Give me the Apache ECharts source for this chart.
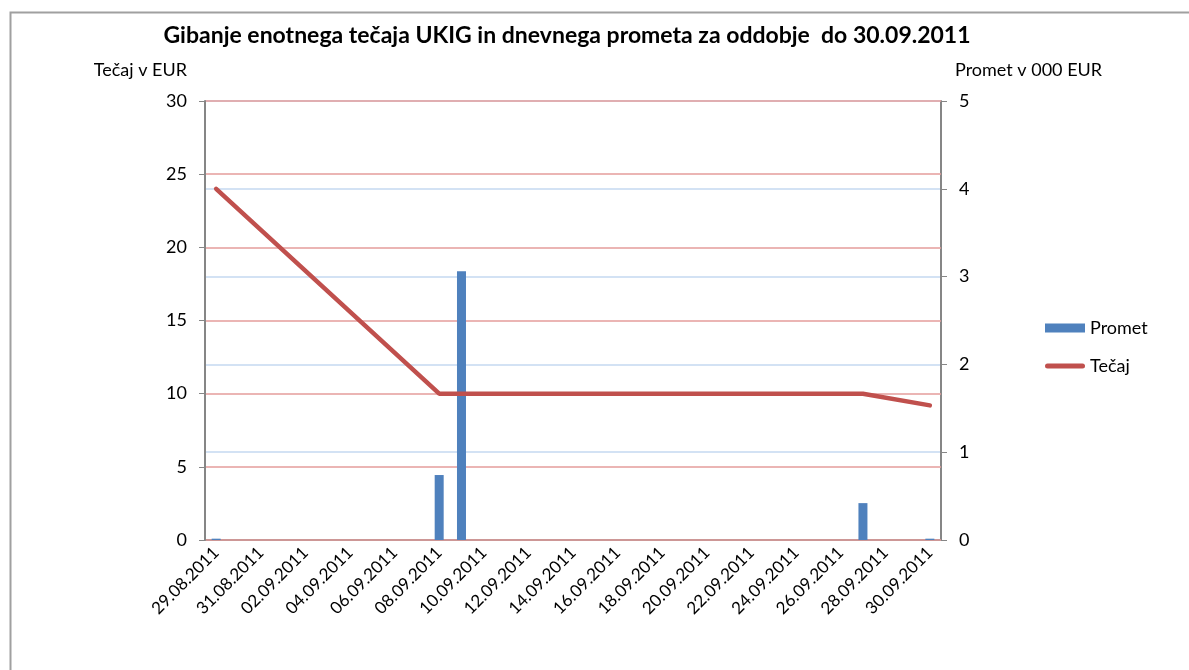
<!DOCTYPE html>
<html>
<head>
<meta charset="utf-8">
<script src="https://cdn.jsdelivr.net/npm/echarts@6/dist/echarts.min.js"></script>
<style>html,body{margin:0;padding:0;background:#fff}#c{width:1189px;height:670px}</style>
</head>
<body>
<div id="c"></div>
<script>
const dates = ['29.08.2011','30.08.2011','31.08.2011','01.09.2011','02.09.2011','03.09.2011','04.09.2011','05.09.2011','06.09.2011','07.09.2011','08.09.2011','09.09.2011','10.09.2011','11.09.2011','12.09.2011','13.09.2011','14.09.2011','15.09.2011','16.09.2011','17.09.2011','18.09.2011','19.09.2011','20.09.2011','21.09.2011','22.09.2011','23.09.2011','24.09.2011','25.09.2011','26.09.2011','27.09.2011','28.09.2011','29.09.2011','30.09.2011'];
const promet = [0.015,null,null,null,null,null,null,null,null,null,0.74,3.06,null,null,null,null,null,null,null,null,null,null,null,null,null,null,null,null,null,0.42,null,null,0.015];
const tecaj = [24,null,null,null,null,null,null,null,null,null,10,10,null,null,null,null,null,null,null,null,null,null,null,null,null,null,null,null,null,10,null,null,9.2];
const leftTicks = [0,5,10,15,20,25,30];
const rightTicks = [0,1,2,3,4,5];

const FONT = 'Lato';
const chart = echarts.init(document.getElementById('c'));
chart.setOption({
  animation: false,
  textStyle: {fontFamily: FONT},
  graphic: [{type:'rect', left:8, top:10, shape:{width:1200, height:700}, style:{fill:'none', stroke:'#a0a0a0', lineWidth:2}, silent:true}],
  title: {text:'Gibanje enotnega tečaja UKIG in dnevnega prometa za oddobje  do 30.09.2011', left:562, top:19, textAlign:'center',
    textStyle:{fontFamily:FONT, fontSize:23, fontWeight:'bold', color:'#000'}},
  legend: {orient:'vertical', left:1040, top:314, itemWidth:40, itemHeight:9, itemGap:20,
    textStyle:{fontSize:18, color:'#000', fontFamily:FONT},
    data:[{name:'Promet', icon:'rect'},{name:'Tečaj', icon:'path://M2.5,0 L37.5,0 A2.5,2.5 0 0 1 37.5,5 L2.5,5 A2.5,2.5 0 0 1 2.5,0 Z'}]},
  grid: {left:205, right:248, top:101, bottom:130, containLabel:false},
  xAxis: {type:'category', data:dates, boundaryGap:true,
    axisLine:{lineStyle:{color:'#868686', width:2}},
    axisTick:{interval:1, length:6, lineStyle:{color:'#868686', width:1.5}},
    axisLabel:{interval:1, rotate:45, fontSize:17, color:'#000', margin:10, fontFamily:FONT}},
  yAxis: [
    {type:'value', min:0, max:30, interval:5, name:'Tečaj v EUR', nameLocation:'end', nameGap:22, z:1,
     nameTextStyle:{fontSize:18, color:'#000', align:'right', padding:[0,18,0,0]},
     axisLine:{show:true, lineStyle:{color:'#868686', width:2}},
     axisTick:{show:true, length:6, lineStyle:{color:'#868686'}},
     axisLabel:{fontSize:18, color:'#000', margin:18, formatter:v=>leftTicks.includes(v)?String(v):''},
     splitLine:{show:true, lineStyle:{color:'#E49C9B', width:1.5}}},
    {type:'value', min:0, max:5, interval:1, name:'Promet v 000 EUR', nameLocation:'end', nameGap:22, position:'right', z:0,
     nameTextStyle:{fontSize:18, color:'#000', align:'left', padding:[0,0,0,14]},
     axisLine:{show:true, lineStyle:{color:'#868686', width:2}},
     axisTick:{show:true, length:6, lineStyle:{color:'#868686'}},
     axisLabel:{fontSize:18, color:'#000', margin:18, formatter:v=>rightTicks.includes(v)?String(v):''},
     splitLine:{show:true, lineStyle:{color:'#C5D9F0', width:1.5}}}
  ],
  series: [
    {name:'Promet', type:'bar', yAxisIndex:1, data:promet, barWidth:9, itemStyle:{color:'#4F81BD'}, z:2},
    {name:'Tečaj', type:'line', yAxisIndex:0, data:tecaj, connectNulls:true, symbol:'none',
     lineStyle:{color:'#C0504D', width:4.5, cap:'round'}, itemStyle:{color:'#C0504D'}, z:3}
  ]
});
</script>
</body>
</html>
